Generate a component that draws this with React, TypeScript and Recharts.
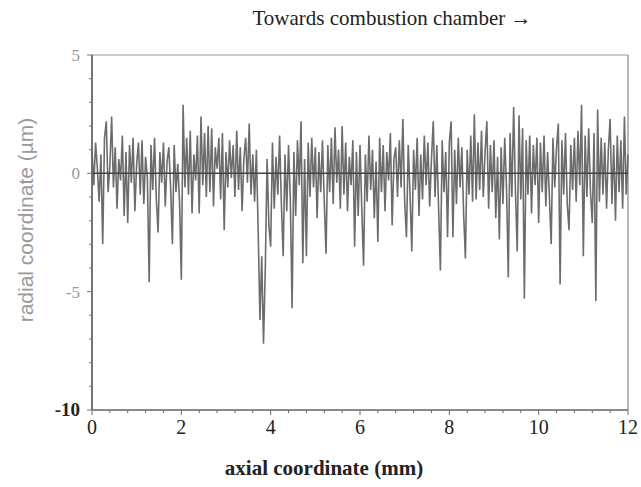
import React from 'react';
import { LineChart, Line, XAxis, YAxis, ReferenceLine } from 'recharts';

// surface profile, sampled every 0.04 mm from 0 to 12 mm (µm)
const SAMPLE_STEP_MM = 0.04;
const PROFILE_UM = [
  1.0, -0.5, 1.3, 0.2, -1.2, 0.8, -3.0, 1.5, 2.2, -0.8,
  0.3, 2.4, -0.6, 1.1, -1.5, 0.6, -0.3, 1.6, -1.8, 0.9,
  -2.1, 1.2, -0.4, 1.5, -1.6, 0.4, 1.3, -0.9, 1.4, -1.3,
  0.7, -0.2, -4.6, 1.2, -0.7, 1.5, -1.1, -2.5, 0.9, -0.4,
  1.3, -1.4, 0.5, 1.1, -0.6, -3.0, 1.2, -0.8, 0.4, -1.2,
  -4.5, 2.9, -0.6, 1.5, -0.9, 1.8, -1.7, 0.8, -0.3, 1.6,
  -1.7, 2.4, -0.5, 1.7, -1.0, 2.0, -0.8, 1.9, -1.4, 1.1,
  0.2, 1.5, -1.1, 1.7, -2.4, 0.9, -0.6, 1.4, -0.2, 1.2,
  -1.0, 1.8, -0.7, 1.1, -1.6, 0.6, 1.5, -0.4, 2.1, -0.9,
  0.8, -1.2, 1.0, -2.4, -6.2, -3.5, -7.2, -4.0, 0.6, -2.2,
  -3.1, 1.3, -1.5, 0.7, -0.9, 1.6, -1.3, -3.5, 0.8, -1.6,
  1.2, -1.1, -5.7, 0.9, -1.8, 1.4, -0.5, 2.2, -3.8, 0.6,
  -3.5, 1.3, -1.0, 1.5, -0.6, 1.1, -1.9, 0.9, -0.8, 1.4,
  -1.2, -3.4, 1.2, -0.8, 1.5, -1.3, 1.95, -0.4, 1.0, -1.5,
  2.0, -0.9, 1.3, -1.6, 0.7, -0.5, 1.4, -3.1, 0.9, -1.8,
  1.2, -1.5, -3.9, 0.8, -1.2, 1.6, -0.7, 1.0, -1.9, 0.5,
  -2.9, 1.5, -0.8, 1.2, -1.6, 0.9, -0.3, 1.7, -2.2, 0.6,
  1.1, -1.0, 1.4, -0.6, 2.3, -1.2, -2.7, 1.2, -0.9, -3.3,
  1.0, -0.7, 1.5, -1.8, 0.8, -1.1, 1.6, -0.5, 1.3, -1.4,
  0.6, 2.2, -1.0, 1.2, -1.5, -4.1, 1.4, -0.8, 0.9, -2.7,
  1.3, 2.2, -2.7, 1.0, -1.3, 1.5, -0.6, 1.1, -1.7, -3.6,
  1.0, -0.9, 1.6, -1.2, 2.5, -1.1, 1.3, -0.7, 1.8, -1.0,
  0.9, 2.2, -1.5, 1.2, -0.8, 1.4, -1.9, 0.7, -2.8, 1.1,
  -1.3, 1.5, -0.6, -4.4, 1.7, -1.0, 2.8, -0.7, -3.3, 2.45,
  -1.1, 1.9, -5.3, 1.4, -0.9, 1.6, -1.7, 1.2, -0.5, 1.5,
  -2.1, 1.3, -0.8, 1.6, -1.4, 0.9, -1.0, -3.0, 1.5, -0.6,
  1.1, 2.1, -4.7, 1.4, -0.9, 1.7, -1.3, -2.4, 1.2, -0.7,
  1.5, -1.2, 1.8, -0.5, 2.9, -3.5, 1.6, -1.0, 1.9, -0.8,
  -2.1, 1.7, -5.4, 2.7, -1.2, 1.5, -0.9, 1.3, -1.5, 1.0,
  2.3, -1.3, 1.2, -2.0, 1.6, -0.8, 1.4, -1.5, 2.4, -0.9,
  0.8,
];

const X_TICKS = [
  0, 0.4, 0.8, 1.2, 1.6, 2, 2.4, 2.8, 3.2, 3.6, 4, 4.4, 4.8, 5.2, 5.6, 6,
  6.4, 6.8, 7.2, 7.6, 8, 8.4, 8.8, 9.2, 9.6, 10, 10.4, 10.8, 11.2, 11.6, 12,
];
const X_LABELS = [0, 2, 4, 6, 8, 10, 12];
const Y_TICKS = [-10, -9, -8, -7, -6, -5, -4, -3, -2, -1, 0, 1, 2, 3, 4, 5];
const Y_LABELS = [-10, -5, 0, 5];

const data = PROFILE_UM.map((r, i) => ({ x: +(i * SAMPLE_STEP_MM).toFixed(2), r }));

const XTick = (props: any) => {
  const { x, y, payload } = props;
  const major = X_LABELS.includes(payload.value);
  return (
    <g>
      <line x1={x} x2={x} y1={y} y2={y + (major ? 5 : 3)} stroke="#666" />
      {major && (
        <text x={x} y={y + 24} textAnchor="middle" fontSize={20} fill="#222" fontFamily="'Liberation Serif', serif">
          {payload.value}
        </text>
      )}
    </g>
  );
};

const YTick = (props: any) => {
  const { x, y, payload } = props;
  const major = Y_LABELS.includes(payload.value);
  const bottom = payload.value === -10;
  return (
    <g>
      <line x1={x} x2={x - (major ? 5 : 3)} y1={y} y2={y} stroke="#777" />
      {major && (
        <text
          x={x - 12}
          y={y + 6}
          textAnchor="end"
          fontSize={bottom ? 19 : 17}
          fontWeight={bottom ? 'bold' : 'normal'}
          fill={bottom ? '#222' : '#999'}
          fontFamily="'Liberation Serif', serif"
        >
          {payload.value}
        </text>
      )}
    </g>
  );
};

export default function App() {
  return (
    <div style={{ position: 'absolute', left: 0, top: 0, width: 641, height: 487, background: '#fff' }}>
      <LineChart width={641} height={487} data={data} margin={{ top: 55, right: 13, bottom: 47, left: 0 }}>
        <text x={392} y={25} textAnchor="middle" fontSize={21} fill="#222" fontFamily="'Liberation Serif', serif">
          Towards combustion chamber →
        </text>
        <text x={324} y={475} textAnchor="middle" fontSize={21} fontWeight="bold" fill="#222" fontFamily="'Liberation Serif', serif">
          axial coordinate (mm)
        </text>
        <text
          x={33}
          y={220}
          transform="rotate(-90 33 220)"
          textAnchor="middle"
          fontSize={21}
          fill="#9a9a9a"
          fontFamily="'Liberation Sans', sans-serif"
        >
          radial coordinate (µm)
        </text>
        <XAxis
          dataKey="x"
          type="number"
          domain={[0, 12]}
          ticks={X_TICKS}
          interval={0}
          height={30}
          tickSize={0}
          tickMargin={0}
          tickLine={false}
          tick={<XTick />}
          axisLine={{ stroke: '#666', strokeWidth: 1.5 }}
        />
        <YAxis
          type="number"
          domain={[-10, 5]}
          ticks={Y_TICKS}
          interval={0}
          width={92}
          tickSize={0}
          tickMargin={0}
          tickLine={false}
          tick={<YTick />}
          axisLine={{ stroke: '#666', strokeWidth: 1.8 }}
        />
        <ReferenceLine y={5} stroke="#999" strokeWidth={1.2} />
        <ReferenceLine x={12} stroke="#888" strokeWidth={1.2} />
        <Line
          dataKey="r"
          type="linear"
          stroke="#6c6c6c"
          strokeWidth={1.6}
          dot={false}
          isAnimationActive={false}
        />
        <ReferenceLine y={0} stroke="#444" strokeWidth={1.5} />
      </LineChart>
    </div>
  );
}
